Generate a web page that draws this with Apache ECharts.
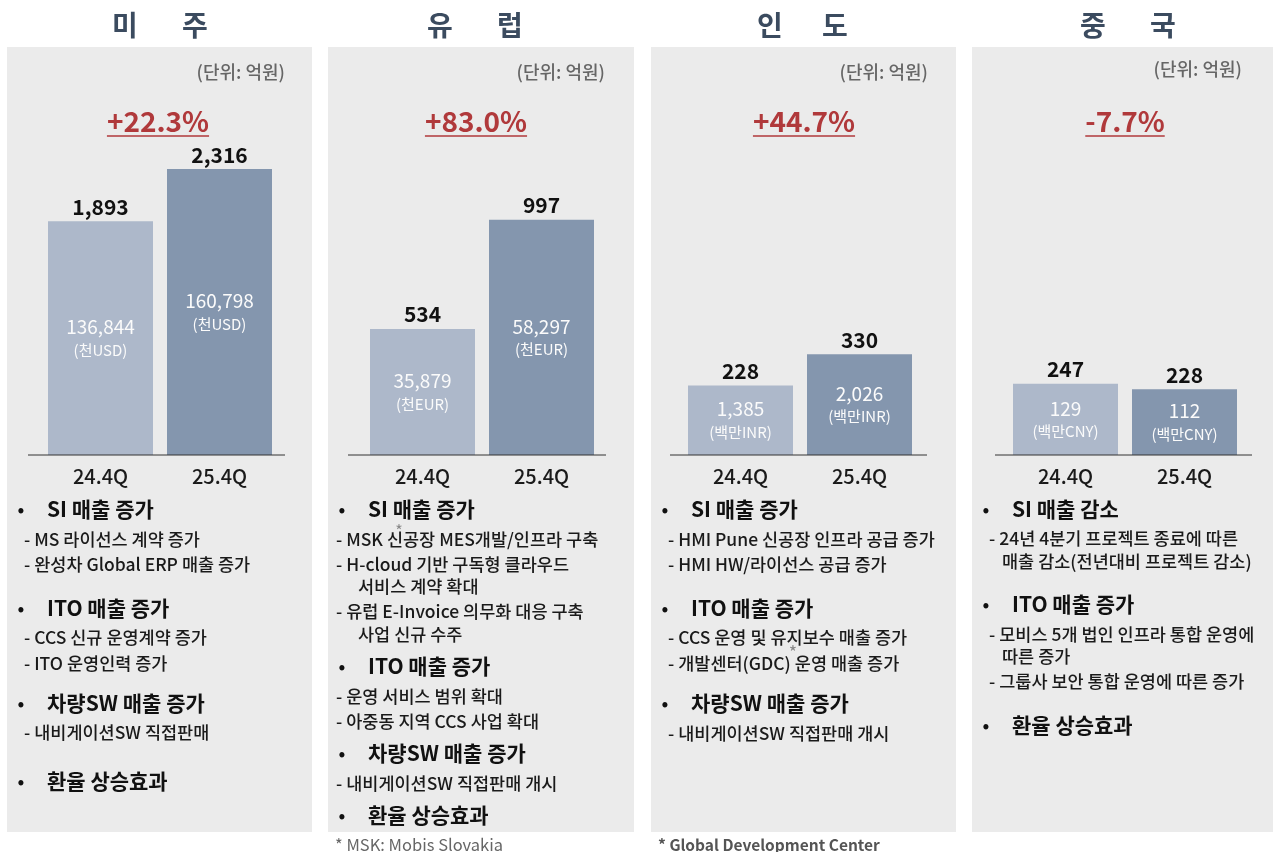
<!DOCTYPE html>
<html><head><meta charset="utf-8">
<script src="https://cdn.jsdelivr.net/npm/echarts@6/dist/echarts.min.js"></script>
<style>html,body{margin:0;padding:0;background:#fff}#c{width:1273px;height:852px}</style>
</head><body><div id="c"></div>
<script>
// ---------- DATA ----------
const regionTitles = [['미','주'],['유','럽'],['인','도'],['중','국']];
const categories = ['24.4Q','25.4Q'];
const revenueKRW = [[1893,2316],[534,997],[228,330],[247,228]]; // 억원
const localValues = [['136,844','160,798'],['35,879','58,297'],['1,385','2,026'],['129','112']];
const localUnits = ['(천USD)','(천EUR)','(백만INR)','(백만CNY)'];
const growthLabels = ['+22.3%','+83.0%','+44.7%','-7.7%'];
const unitLabel = '(단위: 억원)';
const notesAmerica = [
  ['h','SI 매출 증가'],['s','- MS 라이선스 계약 증가'],['s','- 완성차 Global ERP 매출 증가'],
  ['h','ITO 매출 증가'],['s','- CCS 신규 운영계약 증가'],['s','- ITO 운영인력 증가'],
  ['h','차량SW 매출 증가'],['s','- 내비게이션SW 직접판매'],['h','환율 상승효과']];
const notesEurope = [
  ['h','SI 매출 증가'],['s','- MSK 신공장 MES개발/인프라 구축'],['s','- H-cloud 기반 구독형 클라우드'],['c','서비스 계약 확대'],
  ['s','- 유럽 E-Invoice 의무화 대응 구축'],['c','사업 신규 수주'],
  ['h','ITO 매출 증가'],['s','- 운영 서비스 범위 확대'],['s','- 아중동 지역 CCS 사업 확대'],
  ['h','차량SW 매출 증가'],['s','- 내비게이션SW 직접판매 개시'],['h','환율 상승효과']];
const notesIndia = [
  ['h','SI 매출 증가'],['s','- HMI Pune 신공장 인프라 공급 증가'],['s','- HMI HW/라이선스 공급 증가'],
  ['h','ITO 매출 증가'],['s','- CCS 운영 및 유지보수 매출 증가'],['s','- 개발센터(GDC) 운영 매출 증가'],
  ['h','차량SW 매출 증가'],['s','- 내비게이션SW 직접판매 개시']];
const notesChina = [
  ['h','SI 매출 감소'],['s','- 24년 4분기 프로젝트 종료에 따른'],['c','매출 감소(전년대비 프로젝트 감소)'],
  ['h','ITO 매출 증가'],['s','- 모비스 5개 법인 인프라 통합 운영에'],['c','따른 증가'],['s','- 그룹사 보안 통합 운영에 따른 증가'],
  ['h','환율 상승효과']];
const footnotes = ['* MSK: Mobis Slovakia','* Global Development Center'];

// ---------- LAYOUT ----------
const FONT = "'Noto Sans CJK KR','Noto Sans',sans-serif";
const notes = [notesAmerica, notesEurope, notesIndia, notesChina];
const panels = [{x:7,w:305},{x:328,w:306},{x:651,w:305},{x:972,w:301}];
const panelTop = 47, panelBottom = 832;
const gridLeft = [41,363,681,1006];
const gridW = 238, gridTop = 150, baseY = 455;
const yMax = [2470,1292,1000,1059];
const axisSpan = [[28,285],[348,606],[670,927],[995,1252]];
const titleX = [[125,195],[440,510],[770,835],[1093,1163]];
const pctX = [158,476,804,1125];
const unitRight = [285,605,928,1242];
const unitY = [72,72,72,69];
const noteY = [
  [509,539,564,608,637,663,703,732,781],
  [509,539,564,586,611,634,666,696,721,753,783,815],
  [509,539,564,608,637,663,703,733],
  [509,538,561,604,634,656,681,725]];
const subOffset = [17,8,17,17];
const barColors = ['#adb8ca','#8496ae'];

const ctx = document.createElement('canvas').getContext('2d');
function textW(t, font){ ctx.font = font; return ctx.measureText(t).width; }

const graphic = [];
const grid = [], xAxis = [], yAxis = [], series = [];
panels.forEach((p,i)=>{
  graphic.push({type:'rect', shape:{x:p.x,y:panelTop,width:p.w,height:panelBottom-panelTop}, style:{fill:'#ebebeb'}, z:-10});
  titleX[i].forEach((x,k)=>graphic.push({type:'text', x:x, y:25, style:{text:regionTitles[i][k], font:`bold 28px ${FONT}`, fill:'#3b4b5f', align:'center', verticalAlign:'middle'}}));
  graphic.push({type:'text', x:unitRight[i], y:unitY[i], style:{text:unitLabel, font:`500 18px ${FONT}`, fill:'#666', align:'right', verticalAlign:'middle'}});
  const pf = `bold 28px ${FONT}`;
  graphic.push({type:'text', x:pctX[i], y:121, style:{text:growthLabels[i], font:pf, fill:'#b0393b', align:'center', verticalAlign:'middle'}});
  const w = textW(growthLabels[i], pf);
  graphic.push({type:'line', shape:{x1:pctX[i]-w/2, y1:136, x2:pctX[i]+w/2, y2:136}, style:{stroke:'#b0393b', lineWidth:1.5}});
  graphic.push({type:'line', shape:{x1:axisSpan[i][0], y1:baseY, x2:axisSpan[i][1], y2:baseY}, style:{stroke:'#333', lineWidth:1}, z:10});
  notes[i].forEach((n,k)=>{
    const y = noteY[i][k];
    if(n[0]==='h'){
      graphic.push({type:'text', x:p.x+14, y:y, style:{text:'•', font:`bold 18px ${FONT}`, fill:'#111', align:'center', verticalAlign:'middle'}});
      graphic.push({type:'text', x:p.x+40, y:y, style:{text:n[1], font:`bold 21px ${FONT}`, fill:'#111', verticalAlign:'middle'}});
    } else {
      graphic.push({type:'text', x:p.x+(n[0]==='s'?subOffset[i]:30), y:y, style:{text:n[1], font:`500 17.5px ${FONT}`, fill:'#1a1a1a', verticalAlign:'middle'}});
    }
  });
  grid.push({left:gridLeft[i], width:gridW, top:gridTop, height:baseY-gridTop});
  xAxis.push({type:'category', gridIndex:i, data:categories, axisLine:{show:false}, axisTick:{show:false},
    axisLabel:{fontSize:20, fontWeight:500, color:'#1a1a1a', margin:11, fontFamily:FONT}});
  yAxis.push({type:'value', gridIndex:i, min:0, max:yMax[i], show:false, splitLine:{show:false}});
  series.push({type:'bar', xAxisIndex:i, yAxisIndex:i, barWidth:105,
    data: revenueKRW[i].map((v,j)=>({value:v, itemStyle:{color:barColors[j]}})),
    label:{show:true, position:'inside', fontFamily:FONT,
      formatter: q => `{v|${localValues[i][q.dataIndex]}}\n{u|${localUnits[i]}}`,
      rich:{v:{fontSize:19, color:'#fbfbfb', lineHeight:24, fontFamily:FONT}, u:{fontSize:15, color:'#fbfbfb', lineHeight:22, fontFamily:FONT}}}});
  series.push({type:'bar', xAxisIndex:i, yAxisIndex:i, barWidth:105, barGap:'-100%', data:revenueKRW[i],
    itemStyle:{color:'rgba(0,0,0,0)'}, silent:true,
    label:{show:true, position:'top', distance:4, fontSize:21, fontWeight:'bold', color:'#111', fontFamily:FONT,
      formatter: q => q.value.toLocaleString('en-US')}});
});
// footnote star marks and footnotes
graphic.push({type:'text', x:399, y:531, style:{text:'*', font:`16px ${FONT}`, fill:'#888', align:'center', verticalAlign:'middle'}});
graphic.push({type:'text', x:793, y:652, style:{text:'*', font:`18px ${FONT}`, fill:'#888', align:'center', verticalAlign:'middle'}});
graphic.push({type:'text', x:335, y:845, style:{text:footnotes[0], font:`16.5px ${FONT}`, fill:'#666', verticalAlign:'middle'}});
graphic.push({type:'text', x:658, y:845, style:{text:footnotes[1], font:`bold 15.5px ${FONT}`, fill:'#555', verticalAlign:'middle'}});

const chart = echarts.init(document.getElementById('c'), null, {renderer:'canvas'});
chart.setOption({animation:false, backgroundColor:'#fff', textStyle:{fontFamily:FONT}, grid, xAxis, yAxis, series, graphic});
</script></body></html>
